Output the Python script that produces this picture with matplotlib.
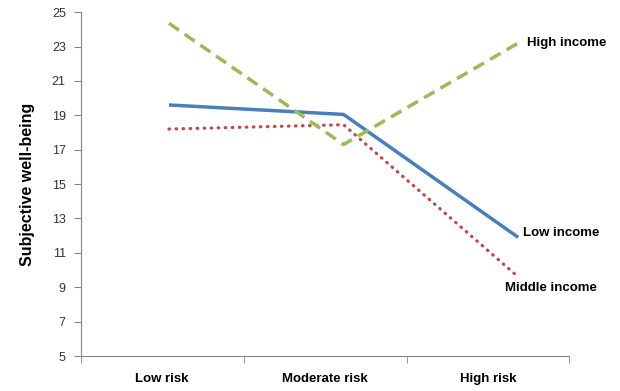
import matplotlib
matplotlib.use("Agg")
from matplotlib import pyplot as plt
import numpy as np

categories = ["Low risk", "Moderate risk", "High risk"]
low_income = [19.6, 19.05, 11.9]
middle_income = [18.2, 18.45, 9.6]
high_income = [24.35, 17.3, 23.2]
yticks = [5, 7, 9, 11, 13, 15, 17, 19, 21, 23, 25]

plt.rcParams['font.family'] = ['Liberation Sans', 'DejaVu Sans']

fig = plt.figure(figsize=(6.2, 3.91), dpi=100)
ax = fig.add_axes([0.1306, 0.0895, 0.7874, 0.8795])

x = np.arange(len(categories))
ax.plot(x, low_income, color="#4A7EBB", lw=2.5, solid_capstyle="butt")
ax.plot(x, middle_income, color="#BE4B48", lw=2.3, linestyle=(0, (0.2, 2.0)),
        dash_capstyle="round")
ax.plot(x, high_income, color="#9BBB59", lw=2.5, linestyle=(0, (3.5, 2)))

ax.annotate("High income", (x[2], high_income[2]), xytext=(9, 0), textcoords="offset pixels",
            fontsize=9.5, fontweight="bold", va="center", ha="left", annotation_clip=False)
ax.annotate("Low income", (x[2], low_income[2]), xytext=(5, 4), textcoords="offset pixels",
            fontsize=9.5, fontweight="bold", va="center", ha="left", annotation_clip=False)
ax.annotate("Middle income", (x[2], middle_income[2]), xytext=(-13, -11), textcoords="offset pixels",
            fontsize=9.5, fontweight="bold", va="center", ha="left", annotation_clip=False)

# category labels sit a little left of the plotted points, as in the source figure
ax.set_xlim(-0.504, 2.292)
ax.set_ylim(5, 25)
ax.set_yticks(yticks)
ax.set_xticks([-0.04, 0.894, 1.828])
ax.set_xticklabels(categories, fontsize=9.5, fontweight="bold")
ax.set_xticks([-0.504, 0.43, 1.364, 2.292], minor=True)
ax.tick_params(axis="x", which="major", length=0, pad=12)
ax.tick_params(axis="x", which="minor", length=5, color="#868686", direction="out")
ax.tick_params(axis="y", length=5, color="#868686", labelsize=9, pad=6)
for lab in ax.get_yticklabels():
    lab.set_color("#333333")

ax.spines["top"].set_visible(False)
ax.spines["right"].set_visible(False)
ax.spines["left"].set_color("#868686")
ax.spines["bottom"].set_color("#868686")

ax.set_ylabel("Subjective well-being", fontsize=11.5, fontweight="bold", labelpad=12)

plt.savefig("out.png", dpi=100)
